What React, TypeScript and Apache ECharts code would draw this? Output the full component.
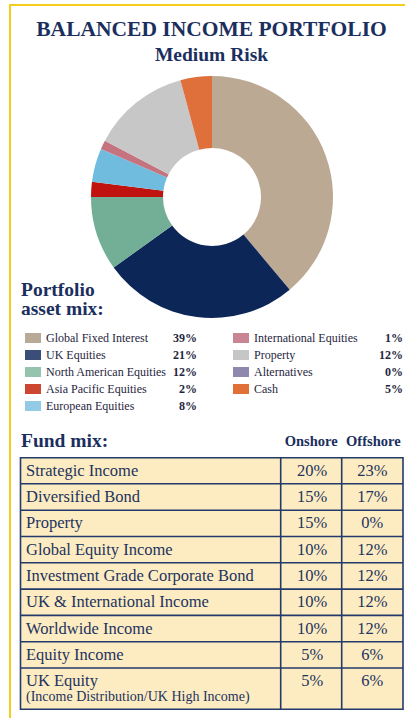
import React, { useEffect, useRef } from "react";
import * as echarts from "echarts";

// ---------- data ----------
const assetNames = [
  "Global Fixed Interest",
  "UK Equities",
  "North American Equities",
  "Asia Pacific Equities",
  "European Equities",
  "International Equities",
  "Property",
  "Alternatives",
  "Cash",
];
// percentages printed in the legend
const legendPercents = [39, 21, 12, 2, 8, 1, 12, 0, 5];
// slice sizes as drawn in the doughnut
const pieShares = [38.9, 26.2, 9.9, 2.0, 4.5, 1.2, 13.1, 0, 4.2];
const sliceColors = ["#bba994", "#0c2757", "#73ae97", "#c0120f", "#70bcde", "#c67380", "#c7c7c7", "#8e86ad", "#e0703b"];
const swatchColors = ["#b9a997", "#3b4e7a", "#96c3ae", "#cc4632", "#93cbe6", "#c98593", "#c6c6c6", "#8f88ae", "#e07038"];

const fundNames = [
  "Strategic Income",
  "Diversified Bond",
  "Property",
  "Global Equity Income",
  "Investment Grade Corporate Bond",
  "UK & International Income",
  "Worldwide Income",
  "Equity Income",
  "UK Equity",
];
const fundNotes = ["", "", "", "", "", "", "", "", "(Income Distribution/UK High Income)"];
const onshore = [20, 15, 15, 10, 10, 10, 10, 5, 5];
const offshore = [23, 17, 0, 12, 12, 12, 12, 6, 6];

// ---------- layout ----------
const FONT = '"Liberation Serif", "Times New Roman", serif';
const NAVY = "#1b2f5e";
const TEXT = "#22335f";
const TABLE_LEFT = 20.5;
const TABLE_RIGHT = 403;
const COL1 = 280.7;
const COL2 = 341.7;
const TABLE_TOP = 457.7;
const ROW_H = [26, 26.5, 26.3, 26.3, 26.3, 26.3, 26.3, 26.3, 41.3];

export default function App() {
  const ref = useRef<HTMLDivElement>(null);

  useEffect(() => {
    if (!ref.current) return;
    const chart = echarts.init(ref.current, null, { renderer: "svg" });

    const graphics: any[] = [];
    // yellow frame
    graphics.push({ type: "rect", shape: { x: 9, y: 4, width: 400, height: 2 }, style: { fill: "#f6cd1c" } });
    graphics.push({ type: "rect", shape: { x: 9, y: 4, width: 2, height: 720 }, style: { fill: "#f6cd1c" } });

    const txt = (text: string, x: number, y: number, size: number, weight: string, align: string, fill = NAVY) => ({
      type: "text",
      style: {
        text,
        x,
        y,
        fontSize: size,
        fontWeight: weight,
        fontFamily: FONT,
        fill,
        textAlign: align,
        textVerticalAlign: "middle",
      },
    });

    graphics.push(txt("BALANCED INCOME PORTFOLIO", 211.5, 29, 21.5, "bold", "center"));
    graphics.push(txt("Medium Risk", 211.5, 54, 19.5, "bold", "center"));
    graphics.push(txt("Portfolio", 21, 289.5, 19.5, "bold", "left"));
    graphics.push(txt("asset mix:", 21, 308.5, 19.5, "bold", "left"));
    graphics.push(txt("Fund mix:", 21, 440, 19.5, "bold", "left"));
    graphics.push(txt("Onshore", (COL1 + COL2) / 2, 441, 14.5, "bold", "center"));
    graphics.push(txt("Offshore", (COL2 + TABLE_RIGHT) / 2 + 1, 441, 14.5, "bold", "center"));

    // table
    const totalH = ROW_H.reduce((a, b) => a + b, 0);
    graphics.push({
      type: "rect",
      shape: { x: TABLE_LEFT, y: TABLE_TOP, width: TABLE_RIGHT - TABLE_LEFT, height: totalH },
      style: { fill: "#fdecc1", stroke: "#233a6b", lineWidth: 1.6 },
    });
    graphics.push({
      type: "line",
      shape: { x1: COL1, y1: TABLE_TOP, x2: COL1, y2: TABLE_TOP + totalH },
      style: { stroke: "#233a6b", lineWidth: 1.6 },
    });
    graphics.push({
      type: "line",
      shape: { x1: COL2, y1: TABLE_TOP, x2: COL2, y2: TABLE_TOP + totalH },
      style: { stroke: "#233a6b", lineWidth: 1.6 },
    });
    let top = TABLE_TOP;
    fundNames.forEach((name, i) => {
      const h = ROW_H[i];
      const cy = fundNotes[i] ? top + 12 : top + h / 2 - 0.5;
      if (i > 0) {
        graphics.push({
          type: "line",
          shape: { x1: TABLE_LEFT, y1: top, x2: TABLE_RIGHT, y2: top },
          style: { stroke: "#233a6b", lineWidth: 1.6 },
        });
      }
      graphics.push(txt(name, 26, cy, 16.5, "normal", "left", TEXT));
      if (fundNotes[i]) graphics.push(txt(fundNotes[i], 26, top + 28, 14, "normal", "left", TEXT));
      graphics.push(txt(onshore[i] + "%", (COL1 + COL2) / 2 + 1, cy, 16.5, "normal", "center", TEXT));
      graphics.push(txt(offshore[i] + "%", (COL2 + TABLE_RIGHT) / 2, cy, 16.5, "normal", "center", TEXT));
      top += h;
    });

    const pctMap: Record<string, number> = {};
    assetNames.forEach((n, i) => (pctMap[n] = legendPercents[i]));

    const makeLegend = (idx: number[], left: number, nameW: number, pctW: number) => ({
      orient: "vertical",
      left,
      top: 327,
      itemWidth: 16,
      itemHeight: 10,
      itemGap: 5,
      icon: "rect",
      selectedMode: false,
      data: idx.map((i) => ({ name: assetNames[i], itemStyle: { color: swatchColors[i] } })),
      formatter: (name: string) => `{n|${name}}{p|${pctMap[name]}%}`,
      textStyle: {
        rich: {
          n: { fontFamily: FONT, fontSize: 12, color: "#1f2640", width: nameW },
          p: { fontFamily: FONT, fontSize: 12, fontWeight: "bold", color: "#1f2640", width: pctW, align: "right" },
        },
      },
    });

    chart.setOption({
      animation: false,
      legend: [makeLegend([0, 1, 2, 3, 4], 20, 126, 25), makeLegend([5, 6, 7, 8], 228, 124, 25)],
      series: [
        {
          type: "pie",
          center: [212, 197],
          radius: [49, 121],
          startAngle: 90,
          clockwise: true,
          label: { show: false },
          labelLine: { show: false },
          emphasis: { disabled: true },
          silent: true,
          data: assetNames.map((n, i) => ({ name: n, value: pieShares[i], itemStyle: { color: sliceColors[i] } })),
        },
      ],
      graphic: graphics,
    });

    return () => chart.dispose();
  }, []);

  return <div ref={ref} style={{ position: "absolute", left: 0, top: 0, width: 405, height: 718 }} />;
}
